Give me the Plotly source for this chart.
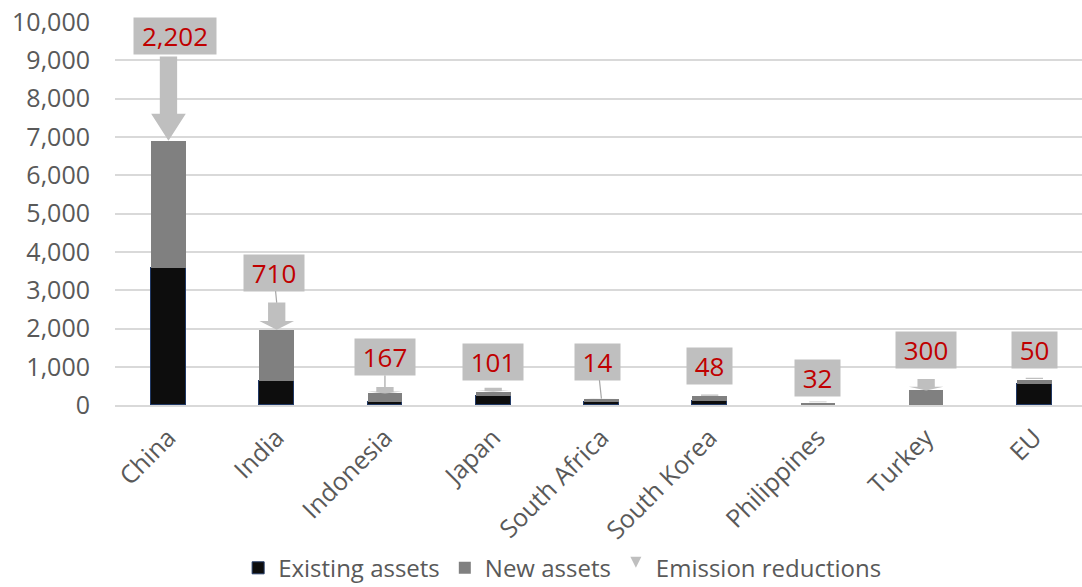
import plotly.graph_objects as go

# ---------------- data ----------------
countries = ["China", "India", "Indonesia", "Japan", "South Africa",
             "South Korea", "Philippines", "Turkey", "EU"]
existing_assets = [3580, 640, 90, 235, 90, 115, 10, 10, 550]
new_assets = [3320, 1330, 220, 120, 70, 120, 60, 380, 120]
emission_reductions = [2202, 710, 167, 101, 14, 48, 32, 300, 50]
y_ticks = [0, 1000, 2000, 3000, 4000, 5000, 6000, 7000, 8000, 9000, 10000]

# ---------------- style ----------------
FONT = "Open Sans"
BAR_W = 0.32
SHAFT_HALF = 0.08
HEAD_HALF = 0.16
HEAD_FRAC = 0.32
# label offsets (pixels) from arrow top to label-box centre, and leader-line flags
label_dx = [7, -3, 0, 0, -4, 0, 0, 0, 0]
label_dy = [-20, -30, -30, -26, -37, -28, -23, -29, -28]
leader = [False, True, True, False, True, False, False, False, False]

x = list(range(len(countries)))
totals = [e + n for e, n in zip(existing_assets, new_assets)]

fig = go.Figure()
fig.add_trace(go.Bar(
    x=x, y=existing_assets, name="Existing assets", width=BAR_W,
    marker=dict(color="#0d0d0d", line=dict(color="#203864", width=1)),
))
fig.add_trace(go.Bar(
    x=x, y=new_assets, name="New assets", width=BAR_W,
    marker=dict(color="#808080", line=dict(width=0)),
))

# arrows for emission reductions
ax_, ay_ = [], []
for i, (t, r) in enumerate(zip(totals, emission_reductions)):
    top = t + r
    hb = t + HEAD_FRAC * r
    ax_ += [i - SHAFT_HALF, i + SHAFT_HALF, i + SHAFT_HALF, i + HEAD_HALF, i,
            i - HEAD_HALF, i - SHAFT_HALF, i - SHAFT_HALF, None]
    ay_ += [top, top, hb, hb, t, hb, hb, top, None]
fig.add_trace(go.Scatter(
    x=ax_, y=ay_, mode="lines", fill="toself", fillcolor="#bfbfbf",
    line=dict(width=0, color="#bfbfbf"), showlegend=False, hoverinfo="skip",
))
fig.add_trace(go.Scatter(
    x=[None], y=[None], mode="markers", name="Emission reductions",
    marker=dict(symbol="arrow-down", color="#bfbfbf", size=11),
))

for i, (t, r) in enumerate(zip(totals, emission_reductions)):
    txt = f"{r:,}"
    ndig = sum(c.isdigit() for c in txt)
    ncom = txt.count(",")
    fig.add_annotation(
        x=i, y=t + r, text=txt, showarrow=True,
        ax=label_dx[i], ay=label_dy[i], axref="pixel", ayref="pixel",
        arrowhead=0, arrowwidth=1.2, standoff=0, startstandoff=0,
        arrowcolor="#a6a6a6" if leader[i] else "rgba(0,0,0,0)",
        bgcolor="#bfbfbf", width=15 * ndig + 7 * ncom + 15, height=36,
        borderpad=0, font=dict(family=FONT, size=26, color="#c00000"),
    )

fig.update_layout(
    width=1082, height=587,
    margin=dict(l=115, r=0, t=22, b=180),
    plot_bgcolor="white", paper_bgcolor="white",
    barmode="stack", bargap=0,
    font=dict(family=FONT, color="#595959"),
    showlegend=True,
    legend=dict(orientation="h", xref="container", x=0.52, xanchor="center",
                yref="container", y=0.032, yanchor="middle",
                font=dict(family=FONT, size=24, color="#595959"),
                traceorder="normal", itemwidth=30),
    xaxis=dict(range=[-0.494, 8.44], tickmode="array", tickvals=x,
               ticktext=countries, tickangle=-45, showgrid=False,
               showline=True, linecolor="#d9d9d9", linewidth=1.5,
               tickfont=dict(family=FONT, size=25, color="#595959"),
               ticks="", zeroline=False, ticklabelstandoff=6),
    yaxis=dict(range=[0, 10000], tickmode="array", tickvals=y_ticks,
               ticktext=[f"{v:,}" for v in y_ticks],
               showgrid=True, gridcolor="#d9d9d9", gridwidth=1.5,
               zeroline=False, showline=False, ticks="",
               ticklabelstandoff=24,
               tickfont=dict(family=FONT, size=25, color="#595959")),
)

fig.write_html("out.html", config={"displayModeBar": False},
               post_script="document.body.style.margin='0';"
                           "document.body.style.overflow='hidden';")
